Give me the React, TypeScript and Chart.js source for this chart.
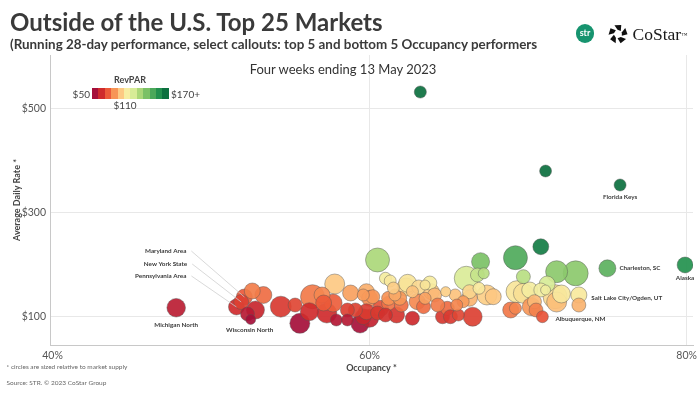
import React, { useEffect, useRef } from 'react';
import { Chart, registerables } from 'chart.js';

Chart.register(...registerables);

// ---------- DATA ----------
// Market callouts correspond to the first ten entries of the arrays below.
const calloutNames = [
  'Michigan North', 'Wisconsin North', 'Maryland Area', 'New York State', 'Pennsylvania Area',
  'Albuquerque, NM', 'Salt Lake City/Ogden, UT', 'Charleston, SC', 'Alaska', 'Florida Keys',
];

// Occupancy (%)
const occupancy = [
  47.8, 52.5, 52.1, 51.9, 51.6, 70.9, 73.2, 75.0, 79.9, 75.8,
  71.1, 63.2, 70.8, 69.2, 71.8, 73.0, 69.7, 67.0, 66.1, 66.8,
  67.2, 66.9, 67.4, 67.8, 66.3, 60.5, 61.0, 61.3, 62.4, 62.3,
  63.5, 62.7, 63.9, 64.8, 65.4, 63.8, 63.1, 61.5, 69.3, 69.7,
  70.1, 70.8, 71.2, 71.1, 71.7, 71.8, 72.1, 68.9, 69.2, 70.2,
  70.4, 70.5, 73.2, 52.6, 53.3, 52.8, 52.3, 54.4, 55.3, 55.6,
  56.4, 56.2, 57.0, 57.1, 57.3, 57.8, 57.7, 57.9, 58.6, 58.8,
  58.6, 59.1, 59.6, 59.4, 59.8, 60.2, 60.5, 59.6, 60.0, 61.2,
  61.6, 61.9, 62.0, 61.2, 60.7, 59.8, 60.0, 61.0, 61.7, 62.7,
  63.0, 63.4, 63.5, 64.1, 64.3, 64.9, 64.6, 65.1, 65.6, 65.5,
  65.9, 66.5, 66.3,
];

// Average Daily Rate ($)
const adr = [
  116.5, 93.8, 137.1, 127.5, 117.9, 99.2, 141.0, 192.3, 198.7, 352.5,
  379.4, 531.3, 233.8, 212.7, 185.8, 182.7, 176.2, 205.0, 173.1, 179.4,
  182.7, 153.8, 141.0, 137.7, 147.3, 208.3, 173.1, 167.9, 163.5, 156.3,
  160.2, 147.3, 147.3, 147.3, 141.0, 164.0, 156.3, 154.4, 147.3, 144.2,
  150.6, 150.6, 162.1, 150.6, 137.7, 127.5, 142.9, 112.1, 115.4, 118.5,
  128.1, 112.1, 121.7, 148.7, 141.0, 112.1, 104.4, 118.5, 121.7, 86.5,
  137.7, 108.8, 141.0, 125.6, 106.3, 162.1, 125.6, 92.9, 92.9, 144.8,
  112.1, 112.1, 99.2, 85.2, 147.3, 137.7, 106.3, 141.0, 134.6, 134.6,
  141.0, 134.6, 121.7, 125.0, 115.4, 108.8, 96.2, 102.5, 102.5, 96.2,
  128.1, 118.5, 134.6, 141.0, 121.7, 115.4, 99.2, 99.2, 102.5, 121.7,
  128.1, 99.2, 134.6,
];

// Market supply (thousand rooms) – drives circle size
const supply = [
  15.0, 4.3, 11.1, 9.8, 11.0, 6.2, 11.2, 12.5, 11.0, 6.3,
  6.2, 6.4, 11.0, 25.0, 21.0, 27.1, 8.5, 14.1, 25.2, 8.4,
  5.3, 6.2, 17.4, 11.1, 8.5, 25.0, 6.3, 6.2, 14.0, 14.1,
  4.3, 6.3, 11.0, 4.4, 6.3, 8.5, 8.6, 6.2, 21.0, 17.3,
  11.1, 8.5, 11.0, 4.3, 25.1, 17.4, 14.0, 11.1, 6.3, 14.1,
  8.5, 8.4, 8.5, 11.1, 12.5, 14.1, 8.5, 19.1, 8.5, 17.4,
  25.0, 14.1, 11.1, 11.0, 17.3, 17.4, 14.0, 6.3, 6.2, 11.1,
  8.5, 8.6, 11.0, 14.1, 11.1, 8.5, 8.5, 6.3, 11.1, 8.5,
  6.3, 8.4, 8.5, 8.6, 11.1, 11.0, 14.1, 8.5, 11.1, 8.5,
  11.0, 8.5, 6.3, 8.5, 8.4, 8.5, 8.6, 8.5, 6.3, 6.2,
  6.3, 15.7, 11.0,
];

const xTicks = [40, 60, 80];
const yTicks = [100, 300, 500];
const revparMin = 50;
const revparMid = 110;
const revparMax = 170;
const legendColors = [
  '#a50f3a', '#cf2a2c', '#ec5a3a', '#f79556', '#fdc983', '#f7eda1',
  '#d7ec97', '#aad778', '#7bc166', '#4ba85a', '#22904e', '#0c703f',
];

// ---------- HELPERS ----------
function hexToRgb(h: string) {
  const n = parseInt(h.slice(1), 16);
  return [(n >> 16) & 255, (n >> 8) & 255, n & 255];
}

function revparColor(v: number, alpha: number) {
  const t = Math.min(1, Math.max(0, (v - revparMin) / (revparMax - revparMin)));
  const n = legendColors.length;
  const pos = t * (n - 1);
  const i = Math.min(n - 2, Math.floor(pos));
  const f = pos - i;
  const a = hexToRgb(legendColors[i]);
  const b = hexToRgb(legendColors[i + 1]);
  const c = a.map((av, k) => Math.round(av + (b[k] - av) * f));
  return `rgba(${c[0]},${c[1]},${c[2]},${alpha})`;
}

type Place = { mode: 'below' | 'right' | 'leader'; dx: number; dy: number };
const calloutPlacement: Record<string, Place> = {
  'Michigan North': { mode: 'below', dx: 0, dy: 17 },
  'Wisconsin North': { mode: 'below', dx: -1, dy: 10 },
  'Maryland Area': { mode: 'leader', dx: -58, dy: -46 },
  'New York State': { mode: 'leader', dx: -54, dy: -38 },
  'Pennsylvania Area': { mode: 'leader', dx: -50, dy: -31 },
  'Albuquerque, NM': { mode: 'right', dx: 13, dy: 2 },
  'Salt Lake City/Ogden, UT': { mode: 'right', dx: 12.5, dy: 2.5 },
  'Charleston, SC': { mode: 'right', dx: 12, dy: 0 },
  'Alaska': { mode: 'below', dx: 0, dy: 13 },
  'Florida Keys': { mode: 'below', dx: 0, dy: 12 },
};

const annotationPlugin = {
  id: 'annotations',
  afterDatasetsDraw(chart: any) {
    const { ctx, chartArea } = chart;
    const meta = chart.getDatasetMeta(0);
    const raw = chart.data.datasets[0].data as any[];
    ctx.save();
    meta.data.forEach((el: any, j: number) => {
      const idx = raw[j].i;
      const name = calloutNames[idx];
      if (!name) return;
      const pl = calloutPlacement[name];
      const px = el.x;
      const py = el.y;
      const tx = px + pl.dx;
      const ty = py + pl.dy;
      ctx.font = 'bold 6.3px Lato';
      ctx.textBaseline = 'middle';
      if (pl.mode === 'below') ctx.textAlign = 'center';
      else if (pl.mode === 'right') ctx.textAlign = 'left';
      else {
        ctx.textAlign = 'right';
        ctx.strokeStyle = 'rgba(205,205,205,0.95)';
        ctx.lineWidth = 0.8;
        ctx.beginPath();
        ctx.moveTo(tx + 5, ty);
        ctx.lineTo(px, py);
        ctx.stroke();
      }
      ctx.fillStyle = '#3a3a3a';
      ctx.fillText(name, tx, ty);
    });
    // axis titles
    ctx.font = 'bold 9px Lato';
    ctx.fillStyle = '#444';
    ctx.textAlign = 'center';
    ctx.textBaseline = 'middle';
    ctx.fillText('Occupancy *', (chartArea.left + chartArea.right) / 2, chartArea.bottom + 23);
    ctx.translate(chartArea.left - 33, (chartArea.top + chartArea.bottom) / 2);
    ctx.rotate(-Math.PI / 2);
    ctx.fillText('Average Daily Rate *', 0, 0);
    ctx.restore();
  },
};

function CoStarIcon() {
  const blades: string[] = [];
  const R = 9.5;
  const r = 4.2;
  const pt = (rad: number, deg: number) => {
    const a = (deg * Math.PI) / 180;
    return `${(11 + rad * Math.cos(a)).toFixed(2)},${(10 + rad * Math.sin(a)).toFixed(2)}`;
  };
  for (let k = 0; k < 5; k++) {
    const b = -90 + k * 72;
    blades.push([pt(R, b - 22), pt(R, b + 20), pt(r, b + 42), pt(r, b - 6)].join(' '));
  }
  return (
    <svg width={22} height={20} viewBox="0 0 22 20" style={{ position: 'absolute', left: 607, top: 24 }}>
      {blades.map((p, i) => (
        <polygon key={i} points={p} fill="#111" />
      ))}
    </svg>
  );
}

export default function App() {
  const canvasRef = useRef<HTMLCanvasElement>(null);

  useEffect(() => {
    const points = occupancy.map((o, i) => ({
      x: o,
      y: adr[i],
      r: 2.4 * Math.sqrt(supply[i]),
      i,
      rev: (o / 100) * adr[i],
    }));
    points.sort((a, b) => b.r - a.r);

    const chart = new Chart(canvasRef.current as HTMLCanvasElement, {
      type: 'bubble',
      data: {
        datasets: [
          {
            data: points as any,
            backgroundColor: points.map((p) => revparColor(p.rev, 0.92)),
            borderColor: 'rgba(85,85,85,0.55)',
            borderWidth: 0.8,
          },
        ],
      },
      options: {
        responsive: false,
        animation: false,
        events: [],
        layout: { autoPadding: false, padding: { top: 55, right: 7, left: 0, bottom: 0 } },
        plugins: { legend: { display: false }, tooltip: { enabled: false } },
        scales: {
          x: {
            type: 'linear',
            min: 39.84,
            max: 80.4,
            afterBuildTicks: (s: any) => {
              s.ticks = xTicks.map((v) => ({ value: v }));
            },
            afterFit: (s: any) => {
              s.height = 49;
              s.paddingLeft = 0;
              s.paddingRight = 0;
            },
            ticks: {
              callback: (v: any) => `${v}%`,
              font: { family: 'Lato', size: 10.5 },
              color: '#555',
              padding: 4,
              maxRotation: 0,
            },
            grid: {
              color: (c: any) => (c.tick && c.tick.value === 40 ? 'rgba(0,0,0,0)' : '#e8e8e8'),
              drawTicks: false,
            },
            border: { color: '#c8c8c8', width: 1 },
          },
          y: {
            type: 'linear',
            min: 44.8,
            max: 602.5,
            afterBuildTicks: (s: any) => {
              s.ticks = yTicks.map((v) => ({ value: v }));
            },
            afterFit: (s: any) => {
              s.width = 50;
              s.paddingTop = 0;
              s.paddingBottom = 0;
            },
            ticks: {
              callback: (v: any) => `$${v}`,
              font: { family: 'Lato', size: 10.5 },
              color: '#555',
              padding: 4,
            },
            grid: { color: '#e8e8e8', drawTicks: false },
            border: { color: '#c8c8c8', width: 1 },
          },
        },
      },
      plugins: [annotationPlugin],
    } as any);
    return () => chart.destroy();
  }, []);

  const boxW = 77 / legendColors.length;

  return (
    <div
      style={{
        position: 'fixed',
        left: 0,
        top: 0,
        width: 700,
        height: 394,
        background: '#fff',
        overflow: 'hidden',
        fontFamily: 'Lato, sans-serif',
        color: '#333',
      }}
    >
      <canvas
        ref={canvasRef}
        width={700}
        height={394}
        style={{ position: 'absolute', left: 0, top: 0, width: 700, height: 394 }}
      />
      <div style={{ position: 'absolute', left: 10, top: 9.6, fontSize: 24, lineHeight: '24px', fontWeight: 700, color: '#3a3a3a', whiteSpace: 'nowrap' }}>
        Outside of the U.S. Top 25 Markets
      </div>
      <div style={{ position: 'absolute', left: 10, top: 37.8, fontSize: 13.4, lineHeight: '13.4px', fontWeight: 700, color: '#3a3a3a', whiteSpace: 'nowrap' }}>
        (Running 28-day performance, select callouts: top 5 and bottom 5 Occupancy performers
      </div>
      <div style={{ position: 'absolute', left: 200, width: 286, top: 63, fontSize: 13, lineHeight: '13px', textAlign: 'center', color: '#333', whiteSpace: 'nowrap' }}>
        Four weeks ending 13 May 2023
      </div>

      {/* RevPAR legend */}
      <div style={{ position: 'absolute', left: 100, width: 60, top: 75, fontSize: 9, lineHeight: '9px', fontWeight: 700, textAlign: 'center', color: '#444' }}>
        RevPAR
      </div>
      <div style={{ position: 'absolute', left: 92, top: 87.5, height: 11.5, display: 'flex' }}>
        {legendColors.map((c, i) => (
          <div key={i} style={{ width: boxW, height: 11.5, background: c }} />
        ))}
      </div>
      <div style={{ position: 'absolute', left: 50, width: 40, top: 89, fontSize: 10, lineHeight: '10px', textAlign: 'right', color: '#444' }}>
        ${revparMin}
      </div>
      <div style={{ position: 'absolute', left: 171, top: 89, fontSize: 10, lineHeight: '10px', color: '#444' }}>
        ${revparMax}+
      </div>
      <div style={{ position: 'absolute', left: 105, width: 40, top: 100, fontSize: 10, lineHeight: '10px', textAlign: 'center', color: '#444' }}>
        ${revparMid}
      </div>

      {/* Logos */}
      <div
        style={{
          position: 'absolute',
          left: 575.7,
          top: 24.4,
          width: 18.6,
          height: 18.6,
          borderRadius: '50%',
          background: '#17946f',
          color: '#fff',
          fontSize: 9,
          fontWeight: 700,
          lineHeight: '18.6px',
          textAlign: 'center',
        }}
      >
        str
      </div>
      <CoStarIcon />
      <div style={{ position: 'absolute', left: 632.5, top: 25.6, fontFamily: '"Liberation Serif", serif', fontSize: 17.5, lineHeight: '17.5px', color: '#1a1a1a', whiteSpace: 'nowrap' }}>
        CoStar<span style={{ fontSize: 6, verticalAlign: 'top', position: 'relative', top: 1 }}>™</span>
      </div>

      {/* Notes */}
      <div style={{ position: 'absolute', left: 6.5, top: 364.3, fontSize: 6.5, lineHeight: '6.5px', color: '#666', whiteSpace: 'nowrap' }}>
        * circles are sized relative to market supply
      </div>
      <div style={{ position: 'absolute', left: 6.5, top: 380, fontSize: 6.5, lineHeight: '6.5px', color: '#666', whiteSpace: 'nowrap' }}>
        Source: STR. © 2023 CoStar Group
      </div>
    </div>
  );
}
